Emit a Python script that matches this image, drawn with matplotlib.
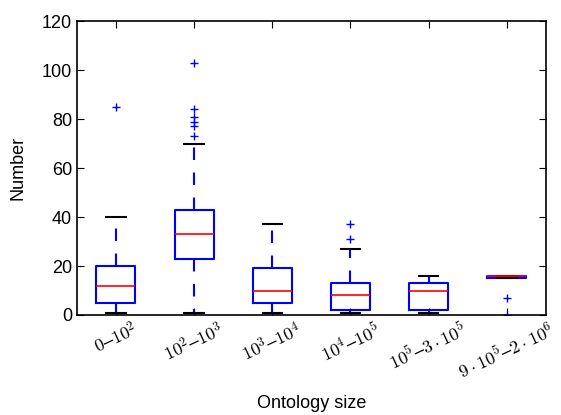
import matplotlib
matplotlib.use("Agg")
import matplotlib.pyplot as plt

plt.rcParams['font.family'] = ['Liberation Sans', 'DejaVu Sans']
plt.rcParams['mathtext.fontset'] = 'cm'

labels = [r'$0$–$10^2$', r'$10^2$–$10^3$', r'$10^3$–$10^4$', r'$10^4$–$10^5$',
          r'$10^5$–$3\cdot10^5$', r'$9\cdot10^5$–$2\cdot10^6$']
q1 = [5, 23, 5, 2, 2, 15]
med = [12, 33, 10, 8, 10, 16]
q3 = [20, 43, 19, 13, 13, 16]
whislo = [1, 1, 1, 1, 1, 15]
whishi = [40, 70, 37, 27, 16, 16]
fliers = [[85], [73, 77, 79, 81, 84, 103], [], [31, 37], [], [7, 0]]

stats = []
for i in range(len(labels)):
    stats.append(dict(q1=q1[i], med=med[i], q3=q3[i], whislo=whislo[i],
                      whishi=whishi[i], fliers=fliers[i]))

fig = plt.figure(figsize=(5.61, 4.15), dpi=100)
ax = fig.add_axes([0.137, 0.241, 0.836, 0.708])
ax.bxp(stats, widths=0.5,
       boxprops=dict(color='blue', linewidth=1.5),
       medianprops=dict(color='red', linewidth=1.2),
       whiskerprops=dict(color='blue', linestyle='--', linewidth=1.5, dashes=(6, 6)),
       capprops=dict(color='black', linewidth=1.5),
       flierprops=dict(marker='+', markeredgecolor='blue', markersize=6, linestyle='none'))

ax.set_ylim(0, 120)
ax.set_xlim(0.5, 6.5)
ax.set_xticks(range(1, 7))
ax.set_xticklabels(labels, rotation=25, ha='center', fontsize=13)
ax.tick_params(direction='in', top=True, right=True, labelsize=13, length=5)
for s in ax.spines.values():
    s.set_linewidth(1.2)
ax.set_ylabel('Number', fontsize=13, labelpad=11)
ax.set_xlabel('Ontology size', fontsize=13, labelpad=9)

fig.savefig('out.png', dpi=100)
